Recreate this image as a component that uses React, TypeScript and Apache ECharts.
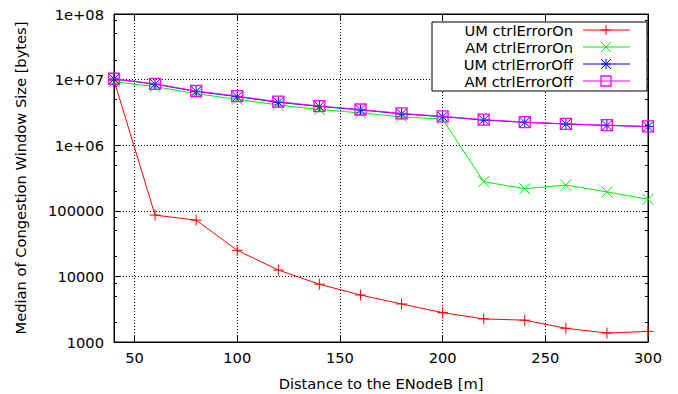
import React, { useEffect, useRef } from "react";
import * as echarts from "echarts";

const distances = [40, 60, 80, 100, 120, 140, 160, 180, 200, 220, 240, 260, 280, 300];
const umCtrlErrorOn = [9.8e6, 86000, 72000, 25000, 12500, 7600, 5200, 3800, 2800, 2250, 2150, 1620, 1370, 1450];
const amCtrlErrorOn = [9.3e6, 7.8e6, 6.1e6, 5.0e6, 4.1e6, 3.5e6, 3.1e6, 2.7e6, 2.5e6, 278000, 217000, 247000, 194000, 150000];
const umCtrlErrorOff = [1.02e7, 8.5e6, 6.6e6, 5.5e6, 4.5e6, 3.9e6, 3.45e6, 3.0e6, 2.72e6, 2.42e6, 2.23e6, 2.1e6, 2.0e6, 1.92e6];
const amCtrlErrorOff = [1.03e7, 8.6e6, 6.7e6, 5.6e6, 4.6e6, 3.95e6, 3.5e6, 3.05e6, 2.75e6, 2.45e6, 2.25e6, 2.12e6, 2.02e6, 1.93e6];
const seriesNames = ["UM ctrlErrorOn", "AM ctrlErrorOn", "UM ctrlErrorOff", "AM ctrlErrorOff"];
const seriesColors = ["#ff0000", "#00f000", "#0000ff", "#ff00ff"];
const minorTickValues = [2e3, 5e3, 8e3, 2e4, 5e4, 8e4, 2e5, 5e5, 8e5, 2e6, 5e6, 8e6, 2e7, 5e7, 8e7];

const FONT = "DejaVu Sans";
const FS = 14.67;
const PLUS = "path://M0,-5L0,5M-5,0L5,0";
const CROSS = "path://M-5,-5L5,5M-5,5L5,-5";
const STAR = "path://M0,-5L0,5M-5,0L5,0M-5,-5L5,5M-5,5L5,-5";
const SQUARE = "path://M-5,-5L5,-5L5,5L-5,5Z";
const symbols = [PLUS, CROSS, STAR, SQUARE];

function legendMarker(kind: number, cx: number, cy: number, color: string) {
  const h = 5;
  const st = { stroke: color, lineWidth: 1 };
  const ln = (x1: number, y1: number, x2: number, y2: number) => ({
    type: "line",
    shape: { x1, y1, x2, y2 },
    style: st,
    z: 101,
  });
  if (kind === 0) return [ln(cx, cy - h, cx, cy + h), ln(cx - h, cy, cx + h, cy)];
  if (kind === 1) return [ln(cx - h, cy - h, cx + h, cy + h), ln(cx - h, cy + h, cx + h, cy - h)];
  if (kind === 2)
    return [
      ln(cx, cy - h, cx, cy + h),
      ln(cx - h, cy, cx + h, cy),
      ln(cx - h, cy - h, cx + h, cy + h),
      ln(cx - h, cy + h, cx + h, cy - h),
    ];
  return [
    {
      type: "rect",
      shape: { x: cx - h, y: cy - h, width: 2 * h, height: 2 * h },
      style: { stroke: color, lineWidth: 1.3, fill: "none" },
      z: 101,
    },
  ];
}

export default function App() {
  const ref = useRef<HTMLDivElement>(null);
  useEffect(() => {
    if (!ref.current) return;
    const chart = echarts.init(ref.current, null, { renderer: "svg" });
    const allValues = [umCtrlErrorOn, amCtrlErrorOn, umCtrlErrorOff, amCtrlErrorOff];
    const series = allValues.map((vals, i) => ({
      name: seriesNames[i],
      type: "line",
      xAxisIndex: 0,
      yAxisIndex: 0,
      data: distances.map((d, j) => [d, vals[j]]),
      symbol: symbols[i],
      symbolSize: 11,
      showAllSymbol: true,
      lineStyle: { color: seriesColors[i], width: 1 },
      itemStyle: { color: "none", borderColor: seriesColors[i], borderWidth: i === 3 ? 1.3 : 1 },
      emphasis: { disabled: true },
      z: 2 + i,
    }));

    const rows = [30, 47, 64, 81];
    const legendGraphics: any[] = [
      {
        type: "rect",
        shape: { x: 432, y: 22, width: 215, height: 69 },
        style: { fill: "#fff", stroke: "#000", lineWidth: 1 },
        z: 100,
      },
    ];
    rows.forEach((y, i) => {
      legendGraphics.push({
        type: "text",
        x: 573,
        y,
        style: {
          text: seriesNames[i],
          font: `${FS}px "${FONT}"`,
          fill: "#000",
          align: "right",
          verticalAlign: "middle",
        },
        z: 101,
      });
      legendGraphics.push({
        type: "line",
        shape: { x1: 583, y1: y, x2: 630, y2: y },
        style: { stroke: seriesColors[i], lineWidth: 1 },
        z: 101,
      });
      legendGraphics.push(...legendMarker(i, 606, y, seriesColors[i]));
    });

    const yBase = { type: "log", logBase: 10, min: 1000, max: 1e8, gridIndex: 0 };
    const option: any = {
      animation: false,
      backgroundColor: "#fff",
      textStyle: { fontFamily: FONT },
      grid: { left: 114, right: 30, top: 14, bottom: 52, show: true, borderColor: "#000", borderWidth: 1, containLabel: false },
      xAxis: [
        {
          type: "value",
          min: 40,
          max: 300,
          splitNumber: 5,
          position: "bottom",
          axisLine: { show: true, lineStyle: { color: "#000", width: 1 } },
          axisTick: { show: true, inside: true, length: 6, lineStyle: { color: "#000" } },
          axisLabel: { showMinLabel: false, margin: 8, color: "#000", fontSize: FS, fontFamily: FONT },
          splitLine: { show: true, lineStyle: { color: "#000", type: [1, 2], width: 1 } },
        },
        {
          type: "value",
          min: 40,
          max: 300,
          splitNumber: 5,
          position: "top",
          axisLine: { show: true, lineStyle: { color: "#000", width: 1 } },
          axisTick: { show: true, inside: true, length: 6, lineStyle: { color: "#000" } },
          axisLabel: { show: false },
          splitLine: { show: false },
        },
      ],
      yAxis: [
        {
          ...yBase,
          position: "left",
          axisLine: { show: true, lineStyle: { color: "#000", width: 1 } },
          axisTick: { show: true, inside: true, length: 6, lineStyle: { color: "#000" } },
          axisLabel: {
            margin: 10,
            color: "#000",
            fontSize: FS,
            fontFamily: FONT,
            formatter: (v: number) => {
              const e = Math.round(Math.log10(v));
              return e >= 6 ? `1e+0${e}` : String(Math.round(Math.pow(10, e)));
            },
          },
          splitLine: { show: true, lineStyle: { color: "#000", type: [1, 2], width: 1 } },
        },
        {
          ...yBase,
          position: "right",
          axisLine: { show: true, lineStyle: { color: "#000", width: 1 } },
          axisTick: { show: true, inside: true, length: 6, lineStyle: { color: "#000" } },
          axisLabel: { show: false },
          splitLine: { show: false },
        },
        {
          ...yBase,
          position: "left",
          axisLine: { show: false },
          axisTick: { show: true, inside: true, length: 3, customValues: minorTickValues, lineStyle: { color: "#000" } },
          axisLabel: { show: false },
          splitLine: { show: false },
        },
        {
          ...yBase,
          position: "right",
          axisLine: { show: false },
          axisTick: { show: true, inside: true, length: 3, customValues: minorTickValues, lineStyle: { color: "#000" } },
          axisLabel: { show: false },
          splitLine: { show: false },
        },
      ],
      series,
      graphic: [
        {
          type: "text",
          x: 381,
          y: 383,
          style: {
            text: "Distance to the ENodeB [m]",
            font: `${FS}px "${FONT}"`,
            fill: "#000",
            align: "center",
            verticalAlign: "middle",
          },
        },
        {
          type: "text",
          x: 20,
          y: 178,
          rotation: Math.PI / 2,
          style: {
            text: "Median of Congestion Window Size [bytes]",
            font: `${FS}px "${FONT}"`,
            fill: "#000",
            align: "center",
            verticalAlign: "middle",
          },
        },
        ...legendGraphics,
      ],
    };
    chart.setOption(option);
    return () => chart.dispose();
  }, []);
  return <div ref={ref} style={{ position: "fixed", left: 0, top: 0, width: 678, height: 394 }} />;
}
